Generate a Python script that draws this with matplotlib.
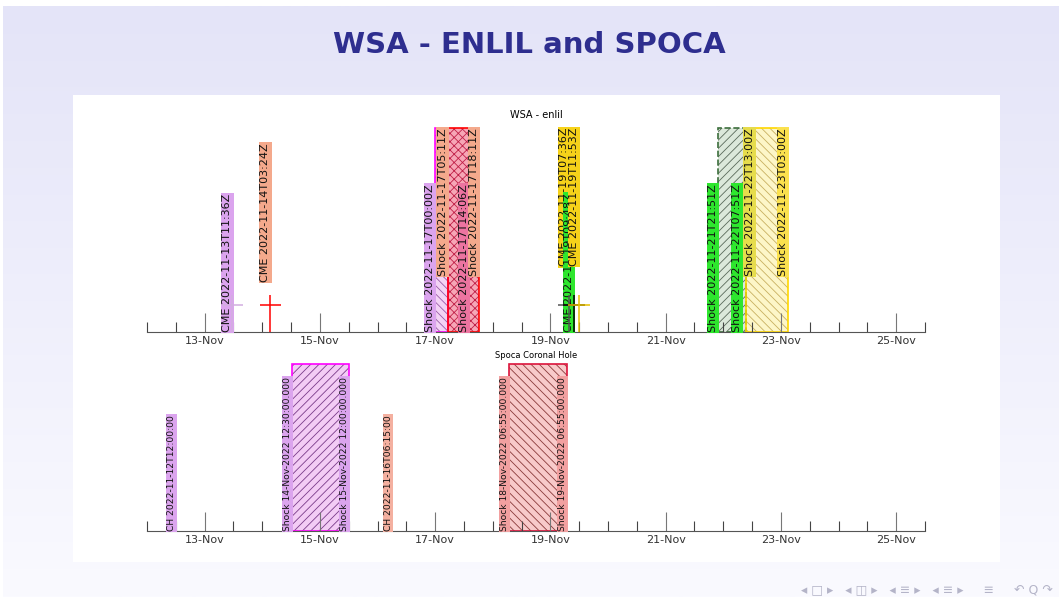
import numpy as np
import pandas as pd
import matplotlib
matplotlib.use('Agg')
import matplotlib.pyplot as plt
import matplotlib.dates as mdates
from matplotlib.patches import Rectangle

# ---- WSA-ENLIL predicted arrivals ----
cme_times = pd.to_datetime(['2022-11-13 11:36', '2022-11-14 03:24', '2022-11-19 07:36',
                            '2022-11-19 09:48', '2022-11-19 11:53'])
cme_colors = ['#dba4ee', '#f4a98c', '#f6d21a', '#2ee62e', '#f6d21a']
cme_cross_colors = ['#d2aee0', 'red', '#555555', 'black', '#e8c000']
cme_err_hours = 4.5

shock_times = pd.to_datetime(['2022-11-17 00:00', '2022-11-17 05:11', '2022-11-17 14:06',
                              '2022-11-17 18:11', '2022-11-21 21:51', '2022-11-22 07:51',
                              '2022-11-22 13:00', '2022-11-23 03:00'])
shock_colors = ['#dba4ee', '#f4a98c', '#ec74a0', '#f4a98c', '#2ee62e', '#2ee62e',
                '#e6dc4c', '#fbe14e']

enlil_start = pd.to_datetime(['2022-11-17 00:00', '2022-11-17 05:11',
                              '2022-11-21 21:51', '2022-11-22 09:25'])
enlil_end = pd.to_datetime(['2022-11-17 05:11', '2022-11-17 18:11',
                            '2022-11-22 09:25', '2022-11-23 03:00'])

# ---- SPOCA coronal holes ----
ch_times = pd.to_datetime(['2022-11-12 12:00', '2022-11-16 06:15'])
ch_colors = ['#dba4ee', '#f4b0a0']

spoca_start = pd.to_datetime(['2022-11-14 12:30', '2022-11-18 06:55'])
spoca_end = pd.to_datetime(['2022-11-15 12:00', '2022-11-19 06:55'])
spoca_label_colors = ['#dba4ee', '#f2a0a0']

# label heights (0 = sits on axis, 1 = hangs from top)
cme_label_y = [0.0, 0.245, 1.0, 0.0, 1.0]
shock_label_y = [0, 1, 0, 1, 0, 0, 1, 1]

enlil_face = ['#f3d3f5', '#f6a6b6', '#dce8da', '#fdf6c8']
enlil_hatch = ['\\\\\\\\', 'xxxx', '////', '\\\\\\\\']
enlil_hatch_color = ['#9a5ca8', '#c02048', '#5a6a5a', '#c8b060']
enlil_edge = ['magenta', 'red', '#3c6e3c', 'gold']
enlil_ls = ['-', '-', '--', '-']

spoca_face = ['#f3ccf5', '#f8caca']
spoca_hatch = ['////', '\\\\\\\\']
spoca_hatch_color = ['#7a3c8a', '#8a3a3a']
spoca_edge = ['magenta', 'crimson']

xmin, xmax = pd.Timestamp('2022-11-12 00:00'), pd.Timestamp('2022-11-25 12:00')

plt.rcParams['hatch.linewidth'] = 0.6
W, H = 1059, 597
fig = plt.figure(figsize=(W / 100, H / 100), dpi=100, facecolor='white')

# slide background
bg = fig.add_axes([3 / W, 0, 1 - 3 / W, 1 - 6 / H], zorder=-10)
grad = np.linspace(0, 1, 256)[:, None]
top_c = np.array([228, 228, 248]) / 255
bot_c = np.array([250, 250, 255]) / 255
bg.imshow(top_c + (bot_c - top_c) * grad[..., None], aspect='auto', extent=[0, 1, 0, 1])
bg.axis('off')
fig.patches.append(Rectangle((73 / W, 1 - 562 / H), (1000 - 73) / W, (562 - 95) / H,
                             transform=fig.transFigure, fc='white', ec='none', zorder=-5))

fig.text(0.5, 1 - 45 / H, 'WSA - ENLIL and SPOCA', color='#2e2e8f', fontsize=21,
         fontweight='bold', ha='center', va='center')
fig.text(1 - 6 / W, 1 - 590 / H, '◂ □ ▸   ◂ ◫ ▸   ◂ ≡ ▸   ◂ ≡ ▸     ≡     ↶ Q ↷',
         color='#b4b4c8', fontsize=9, ha='right', va='center')


def style_axis(ax):
    ax.set_xlim(mdates.date2num(xmin), mdates.date2num(xmax))
    ax.xaxis.set_major_locator(mdates.DayLocator(bymonthday=range(1, 32, 2)))
    ax.xaxis.set_minor_locator(mdates.HourLocator(byhour=[0, 12]))
    ax.xaxis.set_major_formatter(mdates.DateFormatter('%d-%b'))
    ax.tick_params(axis='x', which='major', direction='in', length=14, width=0.8,
                   color='#777777', labelsize=8, pad=3, labelcolor='#333333')
    ax.tick_params(axis='x', which='minor', direction='in', length=7, width=0.8,
                   color='#444444')
    ax.set_yticks([])
    for s in ['top', 'left', 'right']:
        ax.spines[s].set_visible(False)
    ax.spines['bottom'].set_color('#555555')
    ax.set_facecolor('none')


def draw_windows(ax, starts, ends, face, hatch, hcol, edge, ls):
    x0 = mdates.date2num(starts)
    wd = mdates.date2num(ends) - x0
    for i in range(len(x0)):
        ax.bar(x0[i], 1, width=wd[i], align='edge', color=face[i], hatch=hatch[i],
               edgecolor=hcol[i], linewidth=0, zorder=1)
        ax.bar(x0[i], 1, width=wd[i], align='edge', fill=False, edgecolor=edge[i],
               linewidth=1.2, linestyle=ls[i], zorder=1.5)


def tag(ax, t, y, text, color, fs):
    va = 'bottom' if y < 0.5 else 'top'
    ax.text(mdates.date2num(t), y, text, rotation=90, ha='right', va=va, fontsize=fs,
            color='#111111', zorder=3,
            bbox=dict(boxstyle='square,pad=0.1', fc=color, ec='none'))


# ---- top panel: WSA - enlil ----
ax1 = fig.add_axes([147 / W, 1 - 332 / H, (925 - 147) / W, (332 - 120) / H])
style_axis(ax1)
ax1.set_ylim(0, 212 / 204)
ax1.set_title('WSA - enlil', fontsize=7, pad=1)

draw_windows(ax1, enlil_start, enlil_end, enlil_face, enlil_hatch, enlil_hatch_color,
             enlil_edge, enlil_ls)

for t, y, c in zip(shock_times, shock_label_y, shock_colors):
    tag(ax1, t, y, 'Shock ' + t.strftime('%Y-%m-%dT%H:%MZ'), c, 8)

err = pd.Timedelta(hours=cme_err_hours)
for t, y, c, cc in zip(cme_times, cme_label_y, cme_colors, cme_cross_colors):
    tag(ax1, t, y, 'CME ' + t.strftime('%Y-%m-%dT%H:%MZ'), c, 8)
    xc = mdates.date2num(t)
    ax1.vlines(xc, 0, 0.18, color=cc, lw=1.1, zorder=4)
    ax1.hlines(0.13, mdates.date2num(t - err), mdates.date2num(t + err), color=cc,
               lw=1.1, zorder=4)

# ---- bottom panel: SPOCA coronal holes ----
ax2 = fig.add_axes([147 / W, 1 - 531 / H, (925 - 147) / W, (531 - 360) / H])
style_axis(ax2)
ax2.set_ylim(0, 171 / 167)
ax2.set_title('Spoca Coronal Hole', fontsize=6, pad=1)

draw_windows(ax2, spoca_start, spoca_end, spoca_face, spoca_hatch, spoca_hatch_color,
             spoca_edge, ['-', '-'])

for s, e, c in zip(spoca_start, spoca_end, spoca_label_colors):
    tag(ax2, s, 0, 'Shock ' + s.strftime('%d-%b-%Y %H:%M:%S.000'), c, 6.6)
    tag(ax2, e, 0, 'Shock ' + e.strftime('%d-%b-%Y %H:%M:%S.000'), c, 6.6)

for t, c in zip(ch_times, ch_colors):
    tag(ax2, t, 0, 'CH ' + t.strftime('%Y-%m-%dT%H:%M:%S'), c, 6.6)

fig.savefig('out.png', dpi=100)
